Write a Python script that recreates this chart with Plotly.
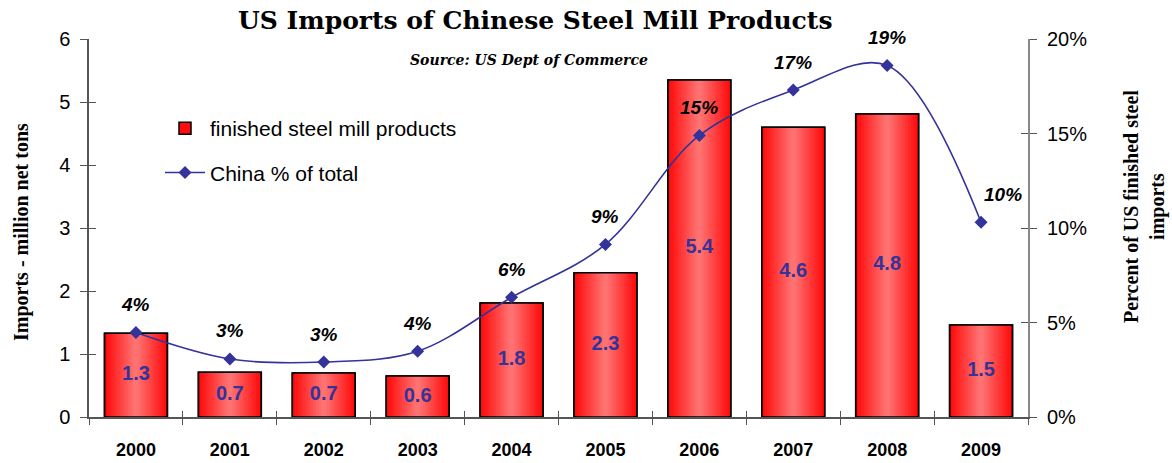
import plotly.graph_objects as go

years = ['2000', '2001', '2002', '2003', '2004', '2005', '2006', '2007', '2008', '2009']
imports_mt = [1.33, 0.71, 0.70, 0.65, 1.81, 2.29, 5.35, 4.60, 4.81, 1.46]
import_labels = ['1.3', '0.7', '0.7', '0.6', '1.8', '2.3', '5.4', '4.6', '4.8', '1.5']
china_pct = [4.47, 3.07, 2.91, 3.48, 6.33, 9.13, 14.9, 17.3, 18.6, 10.3]
pct_labels = ['4%', '3%', '3%', '4%', '6%', '9%', '15%', '17%', '19%', '10%']

SERIF = 'Liberation Serif'
WSERIF = 'DejaVu Serif'
SANS = 'Liberation Sans, Arial'
NAVY = '#333399'

fig = go.Figure()

BAR_W = 0.67
N = 12
for k in range(N):
    r = 1 - k / N
    t = 1 - r
    g = int(12 + 112 * t)
    fig.add_trace(go.Bar(
        x=years, y=imports_mt, width=BAR_W * r,
        marker=dict(color=f'rgb(255,{g},{g})',
                    line=dict(color='black', width=1.5 if k == 0 else 0)),
        name='finished steel mill products', showlegend=(k == 0),
        legendgroup='a', hoverinfo='skip'))
# outline on top
fig.add_trace(go.Bar(
    x=years, y=imports_mt, width=BAR_W,
    marker=dict(color='rgba(0,0,0,0)', line=dict(color='black', width=1.5)),
    showlegend=False, hoverinfo='skip'))

# bar value labels
fig.add_trace(go.Scatter(
    x=years, y=[v / 2 for v in imports_mt], mode='text', text=import_labels,
    textfont=dict(family=SANS, size=20, color=NAVY, weight='bold'),
    showlegend=False, hoverinfo='skip'))

# percent line
fig.add_trace(go.Scatter(
    x=years, y=china_pct, yaxis='y2', mode='lines+markers',
    line=dict(color=NAVY, width=1.6, shape='spline', smoothing=1.0),
    marker=dict(symbol='diamond', size=10, color=NAVY),
    name='China % of total', legendgroup='b', hoverinfo='skip'))

# helper invisible traces for crossing ticks
fig.add_trace(go.Scatter(x=years, y=imports_mt, xaxis='x2', yaxis='y3', mode='markers',
                         marker=dict(opacity=0), showlegend=False, hoverinfo='skip'))
fig.add_trace(go.Scatter(x=years, y=china_pct, xaxis='x', yaxis='y4', mode='markers',
                         marker=dict(opacity=0), showlegend=False, hoverinfo='skip'))

annotations = []
for i, (v, lab) in enumerate(zip(china_pct, pct_labels)):
    annotations.append(dict(
        x=i, y=v, xref='x', yref='y2', text=lab, showarrow=False,
        yshift=28, xshift=(22 if i == len(years) - 1 else 0),
        font=dict(family=SANS, size=19, color='black', weight='bold', style='italic')))

annotations += [
    dict(text='US Imports of Chinese Steel Mill Products', xref='paper', yref='paper',
         x=(535 - 89) / 939, y=1 + (39 - 20) / 378, showarrow=False,
         xanchor='center', yanchor='middle',
         font=dict(family=WSERIF, size=25, color='black', weight='bold')),
    dict(text='Source: US Dept of Commerce', xref='paper', yref='paper',
         x=(529 - 89) / 939, y=1 - (60 - 39) / 378, showarrow=False,
         xanchor='center', yanchor='middle',
         font=dict(family=WSERIF, size=14, color='black', weight='bold', style='italic')),
    dict(text='Imports - million net tons', xref='paper', yref='paper',
         x=(21 - 89) / 939, y=(417 - 232) / 378, showarrow=False, textangle=-90,
         xanchor='center', yanchor='middle',
         font=dict(family=SERIF, size=20, color='black', weight='bold')),
    dict(text='Percent of US finished steel<br>imports', xref='paper', yref='paper',
         x=(1144 - 89) / 939, y=(417 - 207) / 378, showarrow=False, textangle=-90,
         xanchor='center', yanchor='middle',
         font=dict(family=SERIF, size=20, color='black', weight='bold')),
]

fig.update_layout(
    width=1172, height=463,
    margin=dict(l=89, r=144, t=39, b=46, autoexpand=False),
    paper_bgcolor='white', plot_bgcolor='white',
    barmode='overlay', bargap=0.33,
    showlegend=True,
    legend=dict(x=(160 - 89) / 939, y=(417 - 108) / 378, xanchor='left', yanchor='top',
                font=dict(family=SANS, size=21, color='black'),
                bgcolor='rgba(0,0,0,0)', traceorder='grouped', tracegroupgap=14,
                itemwidth=40),
    annotations=annotations,
    xaxis=dict(type='category', categoryarray=years, range=[-0.5, 9.5], automargin=False,
               showline=True, linecolor='#555555', linewidth=1.5,
               ticks='outside', tickson='boundaries', ticklen=6, tickcolor='#555555',
               tickwidth=1, ticklabelstandoff=16,
               tickfont=dict(family=SANS, size=18, color='black', weight='bold'),
               showgrid=False, zeroline=False, fixedrange=True),
    xaxis2=dict(type='category', categoryarray=years, range=[-0.5, 9.5],
                overlaying='x', side='bottom', anchor='y', automargin=False,
                ticks='inside', tickson='boundaries', ticklen=6, tickcolor='#555555',
                showticklabels=False, showline=False, showgrid=False, zeroline=False),
    yaxis=dict(range=[0, 6], dtick=1, showline=True, linecolor='#555555', linewidth=1.5,
               ticks='outside', ticklen=7, tickcolor='#555555', ticklabelstandoff=6,
               tickfont=dict(family=SANS, size=20, color='black'), automargin=False,
               showgrid=False, zeroline=False),
    yaxis3=dict(range=[0, 6], dtick=1, overlaying='y', side='left', anchor='x',
                ticks='inside', ticklen=7, tickcolor='#555555', showticklabels=False,
                showline=False, showgrid=False, zeroline=False, automargin=False),
    yaxis2=dict(range=[0, 20], dtick=5, ticksuffix='%', overlaying='y', side='right',
                anchor='x', showline=True, linecolor='#888888', linewidth=2,
                ticks='outside', ticklen=7, tickcolor='#555555', ticklabelstandoff=6,
                tickfont=dict(family=SANS, size=20, color='black'), automargin=False,
                showgrid=False, zeroline=False),
    yaxis4=dict(range=[0, 20], dtick=5, overlaying='y', side='right', anchor='x',
                ticks='inside', ticklen=7, tickcolor='#555555', showticklabels=False,
                showline=False, showgrid=False, zeroline=False, automargin=False),
)

fig.write_html('out.html')
